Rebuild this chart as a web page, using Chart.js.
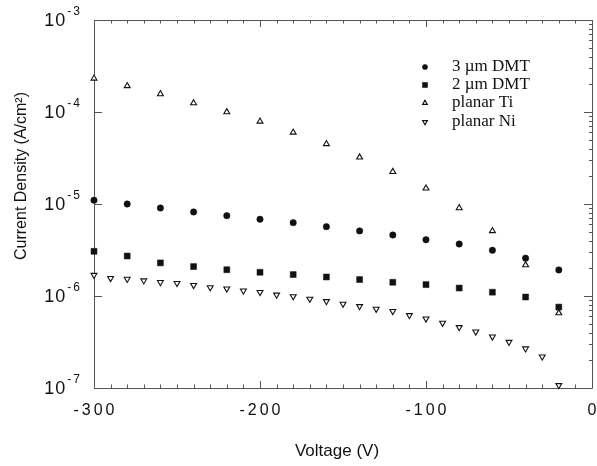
<!DOCTYPE html>
<html>
<head>
<meta charset="utf-8">
<script src="https://cdn.jsdelivr.net/npm/chart.js@4/dist/chart.umd.min.js"></script>
<style>
  html, body { margin: 0; padding: 0; background: #fff; }
  #wrap { width: 597px; height: 466px; }
</style>
</head>
<body>
<div id="wrap"><canvas id="c" width="597" height="466"></canvas></div>
<script>
// ---- data ----
const voltsStep20 = [-300,-280,-260,-240,-220,-200,-180,-160,-140,-120,-100,-80,-60,-40,-20];
const voltsStep10 = [-300,-290,-280,-270,-260,-250,-240,-230,-220,-210,-200,-190,-180,-170,-160,
                     -150,-140,-130,-120,-110,-100,-90,-80,-70,-60,-50,-40,-30,-20];
const dmt3um = [1.10e-5,1.00e-5,9.05e-6,8.2e-6,7.47e-6,6.83e-6,6.27e-6,5.67e-6,5.1e-6,4.6e-6,4.09e-6,3.67e-6,3.14e-6,2.58e-6,1.92e-6];
const dmt2um = [3.06e-6,2.72e-6,2.29e-6,2.09e-6,1.93e-6,1.81e-6,1.71e-6,1.61e-6,1.51e-6,1.41e-6,1.33e-6,1.22e-6,1.10e-6,9.75e-7,7.58e-7];
const planarTi = [2.32e-4,1.92e-4,1.57e-4,1.25e-4,1.0e-4,7.9e-5,6.0e-5,4.5e-5,3.22e-5,2.24e-5,1.48e-5,9.05e-6,5.1e-6,2.17e-6,6.53e-7];
const planarNi = [1.69e-6,1.56e-6,1.53e-6,1.47e-6,1.41e-6,1.38e-6,1.31e-6,1.24e-6,1.2e-6,1.14e-6,1.10e-6,
                  1.03e-6,9.9e-7,9.3e-7,8.75e-7,8.2e-7,7.73e-7,7.23e-7,6.83e-7,6.17e-7,5.66e-7,5.09e-7,
                  4.57e-7,4.09e-7,3.61e-7,3.16e-7,2.68e-7,2.19e-7,1.07e-7];
const seriesNames = ['3 \u00B5m DMT', '2 \u00B5m DMT', 'planar Ti', 'planar Ni'];
const xTickLabels = [-300, -200, -100, 0];
const yTickExponents = [-3, -4, -5, -6, -7];
const xTitle = 'Voltage (V)';
const yTitle = 'Current Density (A/cm\u00B2)';

const pts = (xs, ys) => xs.map((x, i) => ({ x: x, y: ys[i] }));

const INK = '#111';
const FRAME = '#555';

const datasets = [
  { label: seriesNames[0], data: pts(voltsStep20, dmt3um), pointStyle: 'circle', pointRadius: 3.2,
    backgroundColor: INK, borderColor: INK, borderWidth: 0.5, pointRotation: 0 },
  { label: seriesNames[1], data: pts(voltsStep20, dmt2um), pointStyle: 'rect', pointRadius: 4.2,
    backgroundColor: INK, borderColor: INK, borderWidth: 0.5, pointRotation: 0 },
  { label: seriesNames[2], data: pts(voltsStep20, planarTi), pointStyle: 'triangle', pointRadius: 3.4,
    backgroundColor: '#fff', borderColor: INK, borderWidth: 1.1, pointRotation: 0 },
  { label: seriesNames[3], data: pts(voltsStep10, planarNi), pointStyle: 'triangle', pointRadius: 3.4,
    backgroundColor: '#fff', borderColor: INK, borderWidth: 1.1, pointRotation: 180 }
].map(d => Object.assign(d, { showLine: false, clip: false, pointHoverRadius: d.pointRadius }));

const decor = {
  id: 'decor',
  beforeDatasetsDraw(chart) {
    const ctx = chart.ctx, a = chart.chartArea;
    const xs = chart.scales.x, ys = chart.scales.y;
    ctx.save();
    ctx.strokeStyle = FRAME;
    ctx.lineWidth = 1;
    ctx.beginPath();
    ctx.rect(Math.round(a.left) + 0.5, Math.round(a.top) + 0.5,
             Math.round(a.right - a.left), Math.round(a.bottom - a.top));
    ctx.stroke();
    // x ticks (inward, top and bottom)
    ctx.beginPath();
    xs.ticks.forEach(t => {
      const px = Math.round(xs.getPixelForValue(t.value)) + 0.5;
      const major = t.value % 100 === 0;
      const len = major ? 7 : 3.5;
      ctx.moveTo(px, a.bottom); ctx.lineTo(px, a.bottom - len);
      ctx.moveTo(px, a.top); ctx.lineTo(px, a.top + len);
    });
    // y major ticks (inward, left and right)
    yTickExponents.forEach(e => {
      const py = Math.round(ys.getPixelForValue(Math.pow(10, e))) + 0.5;
      ctx.moveTo(a.left, py); ctx.lineTo(a.left + 8, py);
      ctx.moveTo(a.right, py); ctx.lineTo(a.right - 8, py);
    });
    // y minor ticks on right side
    for (let e = -7; e < -3; e++) {
      for (let m = 2; m <= 9; m++) {
        const py = Math.round(ys.getPixelForValue(m * Math.pow(10, e))) + 0.5;
        ctx.moveTo(a.right, py); ctx.lineTo(a.right - 3, py);
      }
    }
    ctx.stroke();
    ctx.restore();
  },
  afterDraw(chart) {
    const ctx = chart.ctx, a = chart.chartArea;
    const xs = chart.scales.x, ys = chart.scales.y;
    ctx.save();
    ctx.fillStyle = INK;
    // x tick labels
    ctx.font = '16px "Liberation Sans", Arial, sans-serif';
    ctx.letterSpacing = '3px';
    ctx.textAlign = 'center';
    ctx.textBaseline = 'middle';
    xTickLabels.forEach(v => {
      ctx.fillText(String(v), xs.getPixelForValue(v) + 1.5, a.bottom + 23);
    });
    // y tick labels 10^e
    yTickExponents.forEach(e => {
      const py = ys.getPixelForValue(Math.pow(10, e));
      const expStr = String(e);
      ctx.font = '12px "Liberation Sans", Arial, sans-serif';
      ctx.letterSpacing = '2px';
      ctx.textAlign = 'right';
      ctx.textBaseline = 'alphabetic';
      ctx.fillText(expStr, 82, py - 5);
      const expW = ctx.measureText(expStr).width;
      ctx.font = '18px "Liberation Sans", Arial, sans-serif';
      ctx.letterSpacing = '1px';
      ctx.textBaseline = 'middle';
      ctx.fillText('10', 82 - expW - 1, py + 1);
    });
    ctx.letterSpacing = '0px';
    // axis titles
    ctx.font = '17px "Liberation Sans", Arial, sans-serif';
    ctx.textAlign = 'center';
    ctx.textBaseline = 'middle';
    ctx.fillText(xTitle, (a.left + a.right) / 2 - 6, 451);
    ctx.save();
    ctx.translate(22, 176);
    ctx.rotate(-Math.PI / 2);
    ctx.font = '16px "Liberation Sans", Arial, sans-serif';
    ctx.fillText(yTitle, 0, 0);
    ctx.restore();
    // legend
    const rowY = [67, 85, 103, 122];
    const legendRadius = [2.6, 3.6, 2.8, 2.8];
    chart.data.datasets.forEach((d, i) => {
      ctx.save();
      ctx.fillStyle = d.backgroundColor;
      ctx.strokeStyle = d.borderColor;
      ctx.lineWidth = d.borderWidth;
      Chart.helpers.drawPoint(ctx, {
        pointStyle: d.pointStyle, radius: legendRadius[i],
        rotation: d.pointRotation, borderWidth: d.borderWidth
      }, 425, rowY[i]);
      ctx.restore();
      ctx.font = '17px "Liberation Serif", "Times New Roman", serif';
      ctx.textAlign = 'left';
      ctx.textBaseline = 'middle';
      ctx.fillStyle = INK;
      ctx.fillText(d.label, 452, rowY[i]);
    });
    ctx.restore();
  }
};

new Chart(document.getElementById('c'), {
  type: 'scatter',
  data: { datasets: datasets },
  options: {
    responsive: false,
    animation: false,
    devicePixelRatio: 1,
    layout: { padding: { left: 94, top: 20, right: 5, bottom: 78 } },
    plugins: { legend: { display: false }, tooltip: { enabled: false }, title: { display: false } },
    elements: { point: { hitRadius: 0 } },
    scales: {
      x: { type: 'linear', min: -300, max: 0,
           ticks: { display: false, stepSize: 10 },
           grid: { display: false, drawTicks: false }, border: { display: false } },
      y: { type: 'logarithmic', min: 1e-7, max: 1e-3,
           ticks: { display: false },
           grid: { display: false, drawTicks: false }, border: { display: false } }
    }
  },
  plugins: [decor]
});
</script>
</body>
</html>
